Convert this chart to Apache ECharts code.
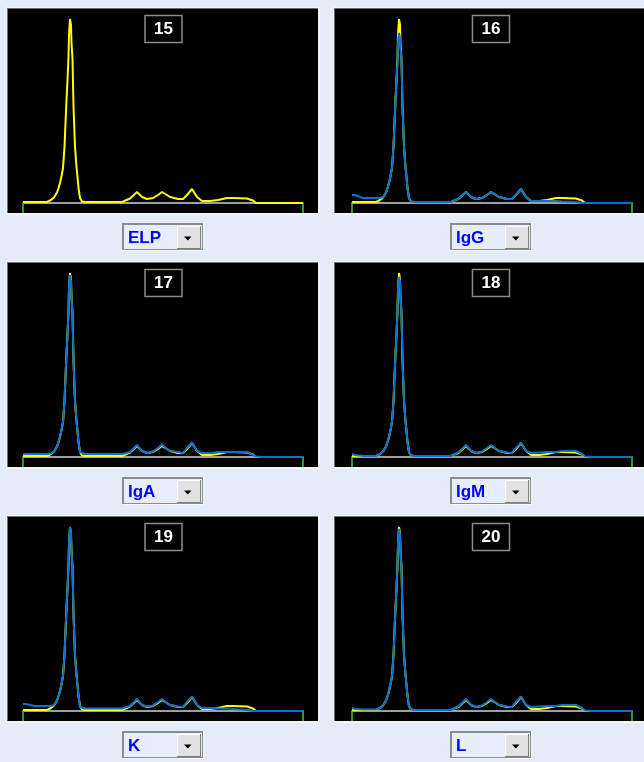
<!DOCTYPE html>
<html>
<head>
<meta charset="utf-8">
<script src="https://cdn.jsdelivr.net/npm/echarts@6/dist/echarts.min.js"></script>
<style>
html, body { margin: 0; padding: 0; background: #e4ecfa; }
#chart { width: 644px; height: 762px; }
</style>
</head>
<body>
<div id="chart"></div>
<script>
// sample positions along the strip (shared by every trace)
const xPos = [0, 3, 11, 24, 28, 31, 34, 35.5, 37, 38.5, 40, 41.5, 42.5, 43.5, 44.5, 45.5, 46, 47, 48, 48.5,
  49.5, 50.5, 52, 53.5, 54.5, 55.5, 57, 59, 62, 80, 99, 107, 114, 119, 124, 130, 135, 139, 144, 147,
  155, 160, 164, 169, 174, 179, 187, 195, 204, 210, 224, 230, 233, 240, 280]

// ELP reference scan (yellow)
const elp = [1, 1, 1, 1, 3, 5.5, 10.5, 15, 20, 27, 35, 56, 80, 103, 123, 146, 168, 184, 178, 160,
  144, 97, 56, 36, 26, 15, 5, 1.5, 1, 1, 1, 4.5, 11, 6, 4, 5, 8, 11, 8, 6,
  4, 4, 8, 14, 6, 2, 2, 3, 5, 5, 4.5, 2.5, 0, 0, 0]

// immunofixation scans (blue)
const igG = [8, 8, 5, 5, 5, 6, 10.5, 15, 20, 27, 35, 56, 80, 103, 123, 140, 160, 170, 165, 155,
  144, 97, 56, 36, 26, 15, 5, 1.5, 1, 1, 1, 4.5, 11, 6, 4, 5, 8, 11, 8, 6,
  4, 4, 8, 14, 6, 2, 2, 2, 2, 1.5, 1, 0, 0, 0, 0]
const igA = [3, 3, 3, 3, 3.5, 5.5, 10.5, 15, 20, 27, 35, 56, 80, 103, 123, 146, 168, 182, 176, 160,
  144, 97, 56, 36, 26, 15, 5, 3, 3, 3, 3, 5, 12, 6, 4, 5.5, 9, 12.5, 8, 6,
  5, 4, 9, 14.5, 6, 4, 4, 5, 5, 5, 5, 2, 0.5, 0, 0]
const igM = [3, 2, 1, 1, 3, 5.5, 10.5, 15, 20, 27, 35, 56, 80, 103, 123, 146, 168, 180, 176, 160,
  144, 97, 56, 36, 26, 15, 5, 1.5, 1, 1, 1, 5, 12, 6, 4, 5.5, 9, 12, 8, 6,
  4.5, 4, 9, 14.5, 6, 4, 4.5, 5, 5, 6, 6, 3, 0.5, 0, 0]
const kappa = [7, 7, 5, 5, 5, 6, 10.5, 15, 20, 27, 35, 56, 80, 103, 123, 146, 168, 184, 178, 160,
  144, 97, 56, 36, 26, 15, 4, 3, 2.5, 2.5, 2.5, 5, 12, 6, 4.5, 5.5, 9, 12, 8, 6,
  4.5, 4, 9, 14.5, 6, 3, 3, 2.5, 2.5, 2, 1, 0, 0, 0, 0]
const lambda = [3, 2, 1.5, 1.5, 3, 5.5, 10.5, 15, 20, 27, 35, 56, 80, 103, 123, 146, 168, 182, 176, 160,
  144, 97, 56, 36, 26, 15, 5, 1.5, 1, 1, 1, 5, 12, 6, 4, 5.5, 9, 12, 8, 6,
  4.5, 4, 9, 14.5, 6, 4, 4.5, 5, 5, 6, 6, 3, 0.5, 0, 0]

const panelNums = ['15', '16', '17', '18', '19', '20']
const panelNames = ['ELP', 'IgG', 'IgA', 'IgM', 'K', 'L']
const blueTraces = [null, igG, igA, igM, kappa, lambda]

const YELLOW = '#ffff00'
const BLUE = '#0872d4'
const FONT = '"Liberation Sans", Arial, sans-serif'

const pairs = (ys) => xPos.map((x, i) => [x, ys[i]])

const grids = [], xAxes = [], yAxes = [], series = [], graphics = []

panelNums.forEach((num, i) => {
  const r = Math.floor(i / 2)
  const c = i % 2
  const fx = c ? 335 : 8
  const fy = 9 + r * 254

  // panel frame
  graphics.push({ type: 'rect', z: 0, shape: { x: fx - 2, y: fy - 2, width: 314, height: 208 }, style: { fill: '#f4f4f4' } })
  graphics.push({ type: 'rect', z: 0, shape: { x: fx - 1, y: fy - 1, width: 311, height: 205 }, style: { fill: '#6e6e6e' } })
  graphics.push({ type: 'rect', z: 0, shape: { x: fx, y: fy, width: 310, height: 204 }, style: { fill: '#000' } })

  // number box
  const cx = c ? 491 : 163.5
  graphics.push({ type: 'rect', z: 5, shape: { x: cx - 18.5, y: fy + 6.5, width: 37, height: 27 },
    style: { fill: '#000', stroke: '#8a8a8a', lineWidth: 1.5 } })
  graphics.push({ type: 'text', z: 6, x: cx, y: fy + 20.5,
    style: { text: num, fill: '#fff', font: 'bold 17px ' + FONT, align: 'center', verticalAlign: 'middle' } })

  // dropdown
  const dx = c ? 450 : 122
  const dy = 223 + r * 254
  graphics.push({ type: 'rect', z: 5, shape: { x: dx, y: dy, width: 82, height: 28 }, style: { fill: '#f6f6f6' } })
  graphics.push({ type: 'rect', z: 5, shape: { x: dx, y: dy, width: 81, height: 27 }, style: { fill: '#8c8c8c' } })
  graphics.push({ type: 'rect', z: 5, shape: { x: dx + 2, y: dy + 2, width: 78, height: 24 }, style: { fill: '#e6eefc' } })
  graphics.push({ type: 'text', z: 6, x: dx + 6, y: dy + 15,
    style: { text: panelNames[i], fill: '#0000ff', font: 'bold 17px ' + FONT, verticalAlign: 'middle' } })
  graphics.push({ type: 'rect', z: 6, shape: { x: dx + 55, y: dy + 3, width: 24, height: 23 }, style: { fill: '#808080' } })
  graphics.push({ type: 'rect', z: 6, shape: { x: dx + 55, y: dy + 3, width: 23, height: 22 }, style: { fill: '#ffffff' } })
  graphics.push({ type: 'rect', z: 6, shape: { x: dx + 56, y: dy + 4, width: 22, height: 21 }, style: { fill: '#e2e2e2' } })
  graphics.push({ type: 'polygon', z: 7,
    shape: { points: [[dx + 62, dy + 13.5], [dx + 69.5, dy + 13.5], [dx + 65.75, dy + 17.5]] },
    style: { fill: '#000' } })

  grids.push({ left: c ? 352 : 23, top: fy, width: 280, height: 194 })
  xAxes.push({
    gridIndex: i, type: 'value', min: 0, max: 280, interval: 280, z: 1,
    axisLine: { lineStyle: { color: '#d4d4d4', width: 1.5 } },
    axisTick: { inside: false, length: 10, lineStyle: { color: '#3cc83c', width: 1.5 } },
    axisLabel: { show: false }, splitLine: { show: false }
  })
  yAxes.push({ gridIndex: i, type: 'value', min: 0, max: 194, show: false })

  series.push({
    type: 'line', xAxisIndex: i, yAxisIndex: i, data: pairs(elp), showSymbol: false, z: 2,
    lineStyle: { color: YELLOW, width: 2 }, silent: true, animation: false
  })
  if (blueTraces[i]) {
    series.push({
      type: 'line', xAxisIndex: i, yAxisIndex: i, data: pairs(blueTraces[i]), showSymbol: false, z: 3,
      lineStyle: { color: BLUE, width: 2 }, silent: true, animation: false
    })
  }
})

const chart = echarts.init(document.getElementById('chart'))
chart.setOption({
  backgroundColor: '#e4ecfa',
  animation: false,
  grid: grids,
  xAxis: xAxes,
  yAxis: yAxes,
  graphic: graphics,
  series
})
</script>
</body>
</html>
